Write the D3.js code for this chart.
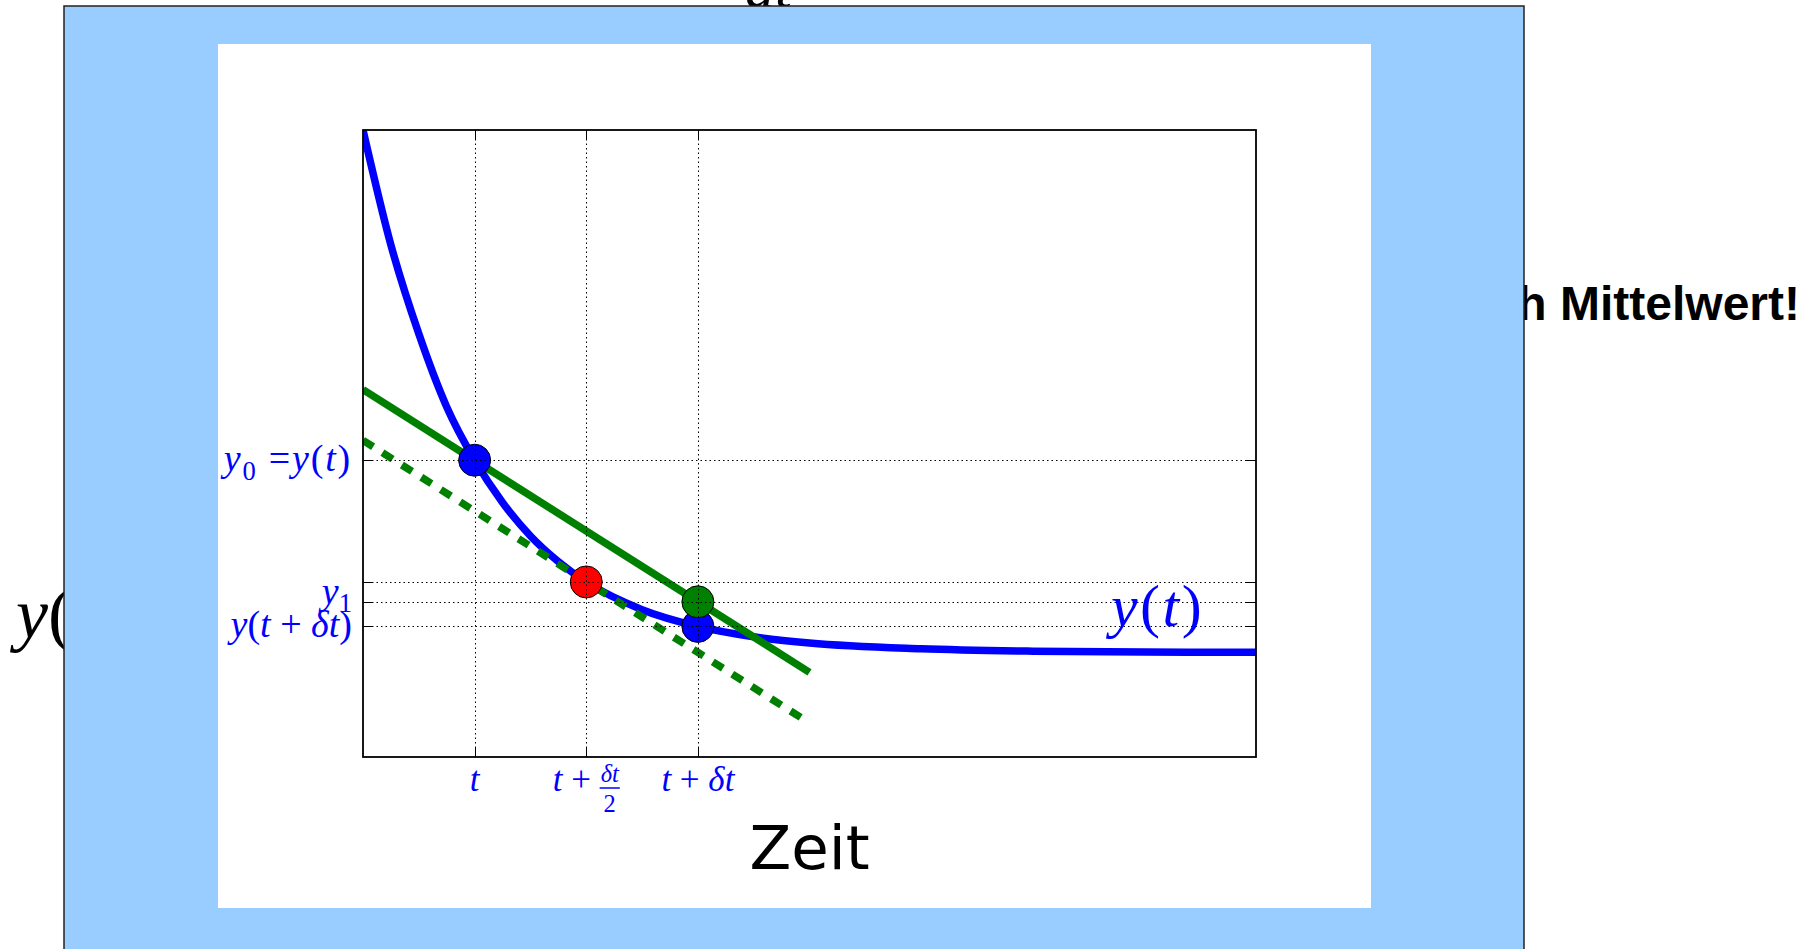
<!DOCTYPE html>
<html lang="de">
<head>
<meta charset="UTF-8">
<title>Mittelpunktsverfahren</title>
<script src="https://cdn.jsdelivr.net/npm/d3@7"></script>
<style>
  body { margin: 0; background: #fff; }
  text { white-space: pre; }
</style>
</head>
<body>
<svg id="chart" width="1816" height="949"></svg>
<script>
// curve y(t)
const curveT = [0, 0.25, 0.5, 0.75, 1, 1.25, 1.5, 1.75, 2, 2.5, 3, 3.5, 4, 5, 6, 7, 8];
const curveY = [1.0, 0.78, 0.61, 0.47, 0.368, 0.287, 0.223, 0.174, 0.135, 0.082, 0.050, 0.030, 0.018, 0.007, 0.0025, 0.001, 0.0003];

// straight lines (start / end)
const slopeLine = [[0, 0.503], [4, -0.038]];     // solid green
const tangentLine = [[0, 0.406], [4, -0.135]];   // dashed green

// markers
const bluePoints = [[1, 0.368], [3, 0.050]];
const redPoints = [[2, 0.135]];
const greenPoints = [[3, 0.097]];

// ticks
const xTicks = [1, 2, 3];
const xTickLabels = ["t", "t + δt/2", "t + δt"];
const yTicks = [0.368, 0.135, 0.097, 0.050];
const yTickLabels = ["y_0 =y(t)", "", "y_1", "y(t + δt)"];

const xLabel = "Zeit";
const curveLabel = "y(t)";

const svg = d3.select("#chart");
const mathFont = "'Liberation Serif', 'DejaVu Serif', serif";

// slide leftovers behind the blue panel
svg.append("text").attr("x", 745).attr("y", 7)
  .attr("font-family", mathFont).attr("font-style", "italic")
  .attr("font-size", 60).text("dt");
svg.append("text").attr("x", 16).attr("y", 638)
  .attr("font-family", mathFont).attr("font-size", 72)
  .call(t => { t.append("tspan").attr("font-style", "italic").text("y"); t.append("tspan").text("("); });
svg.append("text").attr("x", 1800).attr("y", 320).attr("text-anchor", "end")
  .attr("font-family", "'Liberation Sans', Arial, sans-serif").attr("font-weight", "bold")
  .attr("font-size", 48).text("h Mittelwert!");

// panel + picture
svg.append("rect").attr("x", 64).attr("y", 6).attr("width", 1460).attr("height", 1000)
  .attr("fill", "#99ccff").attr("stroke", "#222").attr("stroke-width", 1.5);
svg.append("rect").attr("x", 218).attr("y", 44).attr("width", 1153).attr("height", 864)
  .attr("fill", "#fff");

const margin = {left: 363, right: 1256, top: 130, bottom: 757};
const x = d3.scaleLinear().domain([0, 8]).range([margin.left, margin.right]);
const y = d3.scaleLinear().domain([-0.2, 1]).range([margin.bottom, margin.top]);

svg.append("clipPath").attr("id", "clip").append("rect")
  .attr("x", margin.left).attr("y", margin.top)
  .attr("width", margin.right - margin.left).attr("height", margin.bottom - margin.top);

const g = svg.append("g").attr("clip-path", "url(#clip)");

const line = d3.line().x(d => x(d[0])).y(d => y(d[1]));
const curveData = curveT.map((t, i) => [t, curveY[i]]);

g.append("path").datum(curveData)
  .attr("d", line.curve(d3.curveMonotoneX))
  .attr("fill", "none").attr("stroke", "#0000ff").attr("stroke-width", 7.5);

const straight = d3.line().x(d => x(d[0])).y(d => y(d[1]));
g.append("path").datum(slopeLine).attr("d", straight)
  .attr("fill", "none").attr("stroke", "#008000").attr("stroke-width", 7.5);
g.append("path").datum(tangentLine).attr("d", straight)
  .attr("fill", "none").attr("stroke", "#008000").attr("stroke-width", 7.5)
  .attr("stroke-dasharray", "12 11");

function dots(data, color) {
  g.selectAll(null).data(data).join("circle")
    .attr("cx", d => x(d[0])).attr("cy", d => y(d[1])).attr("r", 16)
    .attr("fill", color).attr("stroke", "#000").attr("stroke-width", 1);
}
dots(bluePoints, "#0000ff");
dots(redPoints, "#ff0000");
dots(greenPoints, "#008000");

// dotted grid on top
const grid = svg.append("g").attr("stroke", "#000").attr("stroke-width", 1)
  .attr("stroke-dasharray", "1.5 3");
grid.selectAll(null).data(xTicks).join("line")
  .attr("x1", d => Math.round(x(d)) + 0.5).attr("x2", d => Math.round(x(d)) + 0.5)
  .attr("y1", margin.top).attr("y2", margin.bottom);
grid.selectAll(null).data(yTicks).join("line")
  .attr("y1", d => Math.round(y(d)) + 0.5).attr("y2", d => Math.round(y(d)) + 0.5)
  .attr("x1", margin.left).attr("x2", margin.right);

// ticks pointing inward on all sides
const tl = 10;
const ticks = svg.append("g").attr("stroke", "#000").attr("stroke-width", 1);
xTicks.forEach(d => {
  const px = Math.round(x(d)) + 0.5;
  ticks.append("line").attr("x1", px).attr("x2", px).attr("y1", margin.bottom).attr("y2", margin.bottom - tl);
  ticks.append("line").attr("x1", px).attr("x2", px).attr("y1", margin.top).attr("y2", margin.top + tl);
});
yTicks.forEach(d => {
  const py = Math.round(y(d)) + 0.5;
  ticks.append("line").attr("y1", py).attr("y2", py).attr("x1", margin.left).attr("x2", margin.left + tl);
  ticks.append("line").attr("y1", py).attr("y2", py).attr("x1", margin.right).attr("x2", margin.right - tl);
});

svg.append("rect").attr("x", margin.left).attr("y", margin.top)
  .attr("width", margin.right - margin.left).attr("height", margin.bottom - margin.top)
  .attr("fill", "none").attr("stroke", "#000").attr("stroke-width", 1.8);

// math-ish text: letters italic, digits/operators upright, "_x" subscript
function mathText(sel, str, fs) {
  const parts = [];
  for (let i = 0; i < str.length; i++) {
    const ch = str[i];
    if (ch === "_") { parts.push({s: str[i + 1], sub: true}); i++; continue; }
    const it = /[a-zA-Zδ]/.test(ch);
    const last = parts[parts.length - 1];
    if (last && !last.sub && last.it === it) last.s += ch;
    else parts.push({s: ch, it: it});
  }
  let shifted = false;
  parts.forEach(p => {
    const ts = sel.append("tspan").text(p.s);
    if (p.sub) {
      ts.attr("font-size", fs * 0.7).attr("dy", fs * 0.22).attr("font-style", "normal");
      shifted = true;
    } else {
      ts.attr("font-style", p.it ? "italic" : "normal");
      if (shifted) { ts.attr("dy", -fs * 0.22); shifted = false; }
    }
  });
  return sel;
}

const fs = 35, fsY = 38;
const labels = svg.append("g").attr("font-family", mathFont).attr("fill", "#0000ff");

yTicks.forEach((d, i) => {
  const lab = yTickLabels[i];
  if (!lab) return;
  const hasParen = lab.includes("(");
  labels.append("text")
    .attr("x", margin.left - 11)
    .attr("y", y(d) + (hasParen ? 11 : 2))
    .attr("text-anchor", "end").attr("font-size", fsY)
    .attr("letter-spacing", lab.includes("=") ? 1.8 : 0)
    .call(s => mathText(s, lab, fsY));
});

xTicks.forEach((d, i) => {
  const lab = xTickLabels[i];
  const base = margin.bottom + 34;
  if (lab.includes("/")) {
    const cut = lab.lastIndexOf(" ") + 1;
    const pre = lab.slice(0, cut);
    const [num, den] = lab.slice(cut).split("/");
    const tmp = labels.append("text").attr("y", base).attr("font-size", fs).call(s => mathText(s, pre, fs));
    const nt = labels.append("text").attr("y", base - 9).attr("font-size", fs * 0.7)
      .attr("text-anchor", "middle").call(s => mathText(s, num, fs * 0.7));
    const preW = tmp.node().getComputedTextLength();
    const fracW = nt.node().getComputedTextLength() + 2;
    const start = x(d) - (preW + fracW) / 2;
    const cx = start + preW + fracW / 2;
    tmp.attr("x", start);
    nt.attr("x", cx);
    labels.append("line").attr("x1", cx - fracW / 2).attr("x2", cx + fracW / 2)
      .attr("y1", base - 3).attr("y2", base - 3).attr("stroke", "#0000ff").attr("stroke-width", 1.5);
    labels.append("text").attr("x", cx).attr("y", base + 21).attr("font-size", fs * 0.7)
      .attr("text-anchor", "middle").call(s => mathText(s, den, fs * 0.7));
  } else {
    labels.append("text").attr("x", x(d)).attr("y", base)
      .attr("text-anchor", "middle").attr("font-size", fs)
      .call(s => mathText(s, lab, fs));
  }
});

// curve label
labels.append("text").attr("x", x(6.7)).attr("y", y(0.05))
  .attr("font-size", 60).attr("letter-spacing", 2.5)
  .call(s => mathText(s, curveLabel, 60));

svg.append("text").attr("x", (margin.left + margin.right) / 2).attr("y", 869)
  .attr("text-anchor", "middle").attr("font-family", "'DejaVu Sans', sans-serif")
  .attr("font-size", 61).text(xLabel);
</script>
</body>
</html>
